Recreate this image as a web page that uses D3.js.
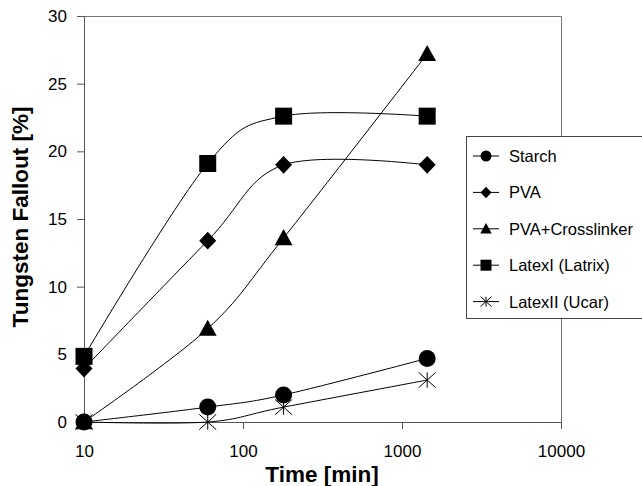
<!DOCTYPE html>
<html>
<head>
<meta charset="utf-8">
<script src="https://cdn.jsdelivr.net/npm/d3@7"></script>
<style>
  body { margin: 0; background: #fff; }
  svg { display: block; font-family: Arial, "Liberation Sans", sans-serif; }
</style>
</head>
<body>
<svg width="642" height="486"></svg>
<script>
// data
var times = [10, 60, 180, 1440];
var starch = [0, 1.1, 2.0, 4.7];
var pva = [3.95, 13.4, 19.0, 19.0];
var pvaCross = [0, 6.9, 13.6, 27.2];
var latex1 = [4.85, 19.1, 22.6, 22.6];
var latex2 = [0, 0, 1.1, 3.1];
var seriesNames = ["Starch", "PVA", "PVA+Crosslinker", "LatexI (Latrix)", "LatexII (Ucar)"];
var seriesShapes = ["circle", "diamond", "triangle", "square", "asterisk"];
var xTicks = [10, 100, 1000, 10000];
var yTicks = [0, 5, 10, 15, 20, 25, 30];

var allSeries = [starch, pva, pvaCross, latex1, latex2];

var svg = d3.select("svg");
var plotLeft = 84, plotRight = 561, plotTop = 16, plotBottom = 422;

var x = d3.scaleLog().domain([10, 10000]).range([plotLeft, plotRight]);
var y = d3.scaleLinear().domain([0, 30]).range([plotBottom, plotTop]);

// frame (top + right)
svg.append("path")
  .attr("d", "M" + plotLeft + "," + (plotTop + 0.5) + "H" + (plotRight + 0.5) + "V" + plotBottom)
  .attr("fill", "none").attr("stroke", "#777").attr("stroke-width", 1);

// axes
var xAxis = svg.append("g").attr("transform", "translate(0," + plotBottom + ")")
  .call(d3.axisBottom(x).tickValues(xTicks).tickSize(7).tickPadding(16).tickFormat(d3.format("d")));
var yAxis = svg.append("g").attr("transform", "translate(" + plotLeft + ",0)")
  .call(d3.axisLeft(y).tickValues(yTicks).tickSize(7).tickPadding(10));
[xAxis, yAxis].forEach(function(g) {
  g.select(".domain").attr("stroke", "#555");
  g.selectAll(".tick line").attr("stroke", "#555");
  g.selectAll("text").attr("font-size", "17px").attr("fill", "#000")
    .attr("font-family", "Arial, 'Liberation Sans', sans-serif");
});

// axis titles
svg.append("text")
  .attr("x", 322).attr("y", 482)
  .attr("text-anchor", "middle")
  .attr("font-size", "22.5px").attr("font-weight", "bold")
  .text("Time [min]");
svg.append("text")
  .attr("transform", "translate(28,217) rotate(-90)")
  .attr("text-anchor", "middle")
  .attr("font-size", "22.5px").attr("font-weight", "bold")
  .text("Tungsten Fallout [%]");

// marker shapes
function circlePath(r) {
  return "M" + (-r) + ",0A" + r + "," + r + " 0 1,0 " + r + ",0A" + r + "," + r + " 0 1,0 " + (-r) + ",0Z";
}
function shapePath(kind, s) {
  // s = half size
  if (kind == "circle") return circlePath(s);
  if (kind == "square") return "M" + (-s) + "," + (-s) + "H" + s + "V" + s + "H" + (-s) + "Z";
  if (kind == "diamond") return "M0," + (-s * 1.05) + "L" + s + ",0L0," + (s * 1.05) + "L" + (-s) + ",0Z";
  if (kind == "triangle") return "M0," + (-s * 1.05) + "L" + (s * 1.05) + "," + (s * 0.85) + "L" + (-s * 1.05) + "," + (s * 0.85) + "Z";
  if (kind == "asterisk") return "M0," + (-s * 0.9) + "V" + (s * 0.9) +
    "M" + (-s) + "," + (-s * 0.9) + "L" + s + "," + (s * 0.9) +
    "M" + (-s) + "," + (s * 0.9) + "L" + s + "," + (-s * 0.9);
}
function drawMarker(g, kind, cx, cy, s) {
  var p = g.append("path")
    .attr("transform", "translate(" + cx + "," + cy + ")")
    .attr("d", shapePath(kind, s));
  if (kind == "asterisk") p.attr("fill", "none").attr("stroke", "#000").attr("stroke-width", 1);
  else p.attr("fill", "#000").attr("stroke", "none");
}

var line = d3.line()
  .x(function(d) { return x(d[0]); })
  .y(function(d) { return y(d[1]); })
  .curve(d3.curveCatmullRom.alpha(0));

allSeries.forEach(function(vals, i) {
  var pts = times.map(function(t, j) { return [t, vals[j]]; });
  var g = svg.append("g");
  g.append("path").attr("d", line(pts))
    .attr("fill", "none").attr("stroke", "#000").attr("stroke-width", 1);
  pts.forEach(function(p) {
    drawMarker(g, seriesShapes[i], x(p[0]), y(p[1]), 8.5);
  });
});

// legend
var lg = svg.append("g");
lg.append("rect")
  .attr("x", 466.5).attr("y", 136.5).attr("width", 190).attr("height", 182)
  .attr("fill", "#fff").attr("stroke", "#444").attr("stroke-width", 1);
seriesNames.forEach(function(name, i) {
  var cy = 156 + i * 36.4;
  lg.append("line").attr("x1", 473).attr("x2", 499).attr("y1", cy).attr("y2", cy)
    .attr("stroke", "#000").attr("stroke-width", 1);
  drawMarker(lg, seriesShapes[i], 486, cy, 5.5);
  lg.append("text").attr("x", 509).attr("y", cy + 6)
    .attr("font-size", "16.5px").text(name);
});
</script>
</body>
</html>
